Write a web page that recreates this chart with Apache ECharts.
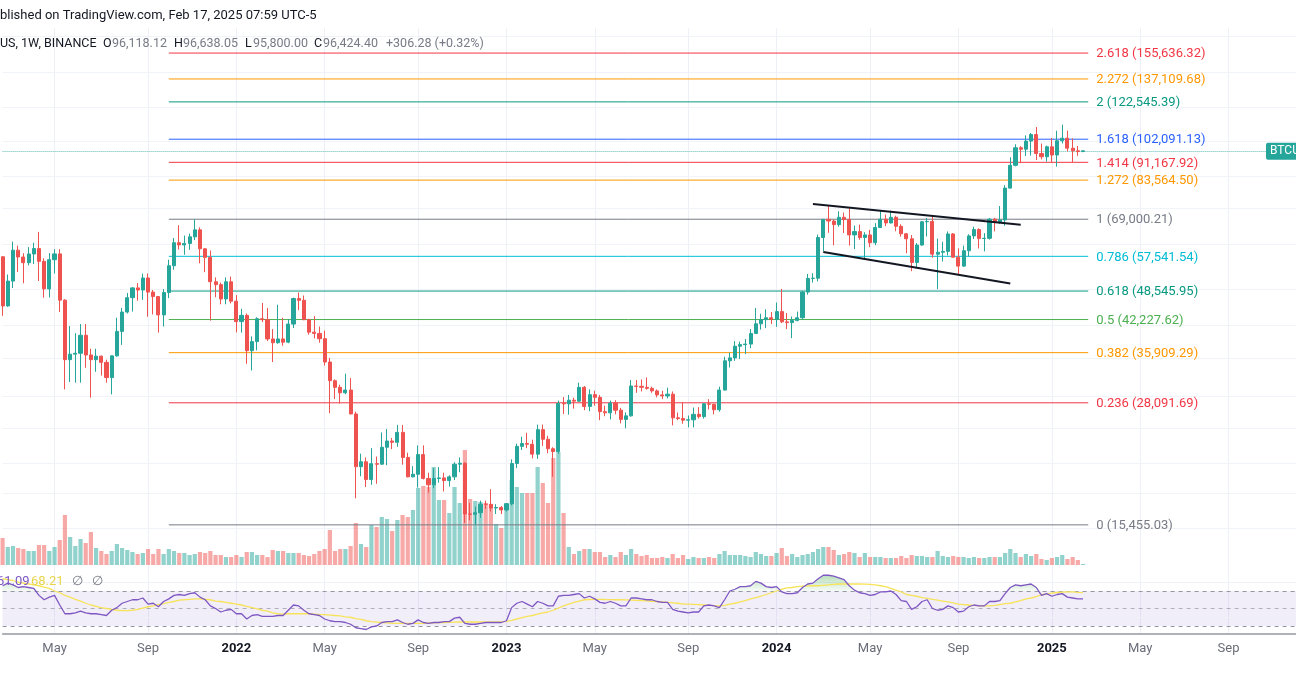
<!DOCTYPE html>
<html><head><meta charset="utf-8">
<script src="https://cdn.jsdelivr.net/npm/echarts@6/dist/echarts.min.js"></script>
<style>html,body{margin:0;padding:0;background:#fff;overflow:hidden}#c{width:1296px;height:700px}</style>
</head><body><div id="c"></div>
<script>
// ---------- DATA ----------
const startDate = [2021, 1, 22];   // first weekly bar (Mon 22 Feb 2021)
const totalWeeks = 250;            // bars + empty future weeks on the axis
const opens = [57412,45135,50971,59302,57351,55777,58202,59769,56150,49066,
56600,58230,46431,34700,35650,35800,39100,35500,34700,35300,
34240,31780,35350,39850,43800,47000,49300,48800,51750,48300,
47250,43200,48200,54950,61500,60850,61300,63300,65500,59700,
57250,50800,50100,46700,50800,46200,41800,43100,36250,37900,
42400,42200,38400,37700,38400,37800,41300,46800,46400,42200,
39700,39450,38450,34300,31300,30300,29500,29900,26600,20550,
21050,19300,20850,20800,22600,23300,23150,24300,21500,19550,
19800,21800,19400,18800,19400,19450,19200,19550,20800,20900,
16300,16280,16400,17100,17090,16780,16830,16630,17130,20870,
22700,23020,22930,21850,24630,23500,22430,22130,28000,27950,
28450,28320,30300,27600,29230,28850,26900,26750,28050,27100,
25900,26350,30500,30450,30300,30150,29780,29200,29050,29300,
26100,26010,25800,25850,26550,26250,27950,27900,27150,29900,
34500,35000,37050,37350,37450,39450,41350,42200,42600,42300,
43900,41750,41600,42050,42600,48300,51650,51700,63100,68950,
68400,67200,69650,68900,63900,64950,63100,63900,61500,66250,
69000,67750,69650,66650,64250,62700,55850,60800,68150,68250,
58150,58700,58950,64200,57300,54850,59150,63600,65600,62800,
62850,69000,68000,68750,80350,89850,97900,97200,101150,104450,
95200,93700,98350,94500,101300,102600,97700,96450,96118.12];
const highs = [57533,52640,61844,60633,58430,60200,61500,64854,57000,58458,
59600,59600,46643,40900,39480,41300,41300,36600,36600,35400,
34700,35400,42600,44700,48100,49500,50500,52900,52900,48800,
47300,49000,56600,62900,67000,63700,64300,69000,66300,59900,
59200,51900,50600,51900,52100,47600,44500,43500,38900,42700,
45800,44700,40300,45400,42600,42300,47000,48200,47500,42400,
42950,40800,40000,35000,31500,30700,32400,31700,26900,21900,
21500,22500,21600,24300,24700,23650,25200,25200,22000,20600,
22800,22800,19950,20400,20500,19950,19700,21000,21500,21000,
17200,16900,17400,17400,18400,17100,16950,17200,21300,23000,
23800,24250,23450,25250,25250,23900,22600,28400,28900,29200,
28800,31000,30500,30000,29800,29200,27700,28400,28450,27400,
26800,31400,31400,31500,31800,30400,30000,29800,30250,29700,
26800,28150,26400,27450,27500,28050,28600,27950,30400,35200,
35900,38000,37900,38400,40300,44700,43450,44400,43800,45900,
49050,43600,42850,43900,48600,52800,52950,64000,69000,73777,
68900,71750,71300,72800,66900,67200,64750,65500,67700,71950,
70600,71950,70200,67300,64500,63850,61400,68400,69400,70000,
62750,61800,65000,64500,59800,60650,64100,66500,66000,64450,
69400,69500,73600,81500,93450,99600,98700,104000,105250,108350,
99950,98950,102700,106400,109600,106450,102500,98800,96638.05];
const lows = [43000,44950,49274,53271,50428,55050,55400,51000,47000,47044,
52900,43825,30000,31100,31000,31000,33350,28800,32700,32100,
31000,29278,35200,37300,43500,43900,46300,46500,42800,43300,
39600,40800,46900,53900,59500,58000,59400,62300,55600,53250,
42000,47100,45500,45500,45700,39650,39600,34000,32900,36300,
41700,38000,34300,37500,37150,37600,40500,44200,42100,39200,
38500,37700,33700,26700,28600,28000,29300,26560,17600,19600,
18600,18800,18900,20750,20700,22400,22650,20750,19500,19500,
18550,19300,18100,18500,19000,18200,18650,19250,20000,15600,
15800,15455,16000,16700,16500,16300,16300,16500,17000,20400,
22300,22500,21400,21350,22750,21950,19550,21900,26600,26500,
27300,28200,27100,26950,27700,25800,26300,25900,26550,25400,
24800,26250,29500,29700,29950,29500,28850,28600,28700,25150,
25800,25350,24900,24900,26000,26000,27200,26550,26900,29850,
33400,34500,34800,35650,36700,39400,40200,40500,41300,40750,
41500,40300,38550,41850,42250,47700,50600,50900,59000,64550,
60750,66500,64500,60650,59600,62400,56550,60200,60750,66100,
66700,67600,65050,63350,58400,53500,54250,60600,63400,57150,
49000,56100,57800,57200,52550,54600,57500,62650,59800,58950,
62450,65050,67450,66850,80200,89400,90800,94000,94250,92200,
92500,91500,91200,89250,100000,96150,91200,94100,95800];
const closes = [45135,50971,59302,57351,55777,58202,59769,56150,49066,56600,
58230,46431,34700,35650,35800,39100,35500,34700,35300,34240,
31780,35350,39850,43800,47000,49300,48800,51750,48300,47250,
43200,48200,54950,61500,60850,61300,63300,65500,59700,57250,
50800,50100,46700,50800,46200,41800,43100,36250,37900,42400,
42200,38400,37700,38400,37800,41300,46800,46400,42200,39700,
39450,38450,34300,31300,30300,29500,29900,26600,20550,21050,
19300,20850,20800,22600,23300,23150,24300,21500,19550,19800,
21800,19400,18800,19400,19450,19200,19550,20800,20900,16300,
16280,16400,17100,17090,16780,16830,16630,17130,20870,22700,
23020,22930,21850,24630,23500,22430,22130,28000,27950,28450,
28320,30300,27600,29230,28850,26900,26750,28050,27100,25900,
26350,30500,30450,30300,30150,29780,29200,29050,29300,26100,
26010,25800,25850,26550,26250,27950,27900,27150,29900,34500,
35000,37050,37350,37450,39450,41350,42200,42600,42300,43900,
41750,41600,42050,42600,48300,51650,51700,63100,68950,68400,
67200,69650,68900,63900,64950,63100,63900,61500,66250,69000,
67750,69650,66650,64250,62700,55850,60800,68150,68250,58150,
58700,58950,64200,57300,54850,59150,63600,65600,62800,62850,
69000,68000,68750,80350,89850,97900,97200,101150,104450,95200,
93700,98350,94500,101300,102600,97700,96450,96120,96424.40];
const volumes = [540,360,380,340,320,280,280,400,400,280,
360,500,1000,560,380,520,440,660,340,280,
220,280,420,340,300,260,220,240,320,220,
320,220,320,280,240,240,200,220,260,240,
280,200,200,160,160,200,160,260,260,200,
200,160,300,280,280,240,240,240,200,180,
220,280,320,700,280,320,320,380,840,420,
360,800,760,960,920,680,900,1000,960,1100,
1540,1580,1560,1960,1300,1300,1040,1560,1240,2300,
1320,1280,1260,1240,1220,820,740,1240,1700,1560,
1440,1440,1440,1960,1640,1240,2140,2260,1040,360,
220,280,320,320,260,260,160,200,160,260,
200,320,220,180,200,140,140,160,140,220,
140,200,120,160,140,140,160,140,220,280,
200,200,200,180,160,260,220,180,180,240,
340,180,220,160,200,220,260,320,360,360,
300,200,220,260,240,160,240,160,160,160,
140,140,140,180,140,200,180,180,160,160,
280,180,160,180,160,160,140,160,140,140,
160,160,160,240,320,240,160,220,180,220,
120,100,140,160,200,120,160,100,20];
const rsi = [76,79,77,74,75,74,73,65,60,63,
65,54,44,44,45,47,45,44,44,43,
42,48,51,56,58,60,60,62,55,56,
52,58,61,65,66,65,67,68,63,60,
53,50,46,48,49,44,44,38,42,43,
41,41,41,42,42,48,54,53,48,44,
43,42,38,36,35,35,34,32,28,27,
26,29,30,34,35,35,37,34,32,33,
37,34,33,34,34,35,35,39,40,33,
32,32,33,34,34,34,34,36,51,56,
58,55,52,58,56,53,53,64,65,65,
66,67,62,64,61,57,56,58,56,53,
53,62,62,61,60,60,58,57,57,49,
47,46,45,46,46,53,54,53,51,60,
70,72,75,75,76,81,79,75,74,75,
69,67,67,68,74,78,79,84,88,88,
87,85,83,76,71,68,67,65,66,69,
69,70,66,59,58,49,52,58,60,50,
48,49,53,51,46,47,52,54,53,53,
58,58,59,67,74,77,76,77,78,74,
65,67,64,66,67,63,62,61,61.09];
const rsiMA = [84,83,82,80,79,78,77,76,74.5,73,
70,68,65,63,60.5,58.5,56,54,52.5,51,
50,49,48,47.5,47.5,48,49,50.5,52,53,
54.5,55.5,57,58,59.5,60,60.5,61,61,60.5,
60,58.5,58,57,56,55,54,52.5,51,49.5,
48,47,45,44,43.5,44,44,44,44,44,
43.5,43,43,42.5,42,41.5,40.5,40,38.5,37.5,
36,35,34.5,34,33.5,33,33,33,33,33,
33,33,33.5,33.5,34,34,34.2,34.5,34.6,34.6,
34.6,34.6,34.6,34.6,34.6,34.8,35,35.4,36.5,38,
39.5,41,42,43.5,45,46,48,50.5,53,55,
57,58.5,60,60.3,60.5,60.5,60.3,60.2,60,60,
59.8,59.6,59.3,59,58.7,58.3,58,57.5,57,56.5,
56,55,55,54.8,54.5,54,53.5,53.2,53,53.5,
55,56,57.5,59,61,62.5,64,66,68,70,
72,73.5,74,75,75.5,75.8,76,76,76.5,77,
77.5,78,78,78,78,78,77.8,77.5,77,76,
75,73,71,69,66,65,64,62.5,61.5,60.5,
59.5,58.5,57.5,56.5,55,54.5,54,53.5,53,53,
53,53.5,54.5,55.5,56,57.5,59,61,62,63.5,
66,66.5,67.5,68.3,68.7,69,69,68.5,68.21];
// Fibonacci retracement (drawn from 15,455.03 to 69,000.21)
const fibRatios = ['2.618','2.272','2','1.618','1.414','1.272','1','0.786','0.618','0.5','0.382','0.236','0'];
const fibPrices = [155636.32,137109.68,122545.39,102091.13,91167.92,83564.50,69000.21,57541.54,48545.95,42227.62,35909.29,28091.69,15455.03];
const fibSpan = ['2021-10-04','2025-02-24'];
// Falling channel trend lines [date, price]
const upperTrend = [['2024-02-19',74350],['2024-11-25',67200]];
const lowerTrend = [['2024-03-04',58760],['2024-11-11',50370]];
// Log price grid levels
const priceGridLevels = [168600,142000,119500,101000,85000,72800,61000,48950,41070,34940,28950,24800,20900,18060,15220];
const rsiLevels = [70,50,30];
const rsiGridLevels = [80,40];
const header = 'blished on TradingView.com, Feb 17, 2025 07:59 UTC-5';
const symbolText = 'US, 1W, BINANCE';
const ohlcLast = ['96,118.12','96,638.05','95,800.00','96,424.40'];
const changeText = '+306.28 (+0.32%)';
const monthNames = ['Jan','Feb','Mar','Apr','May','Jun','Jul','Aug','Sep','Oct','Nov','Dec'];

// ---------- BUILD ----------
const cats = [];
for (let i = 0; i < totalWeeks; i++) {
  const d = new Date(Date.UTC(startDate[0], startDate[1], startDate[2]) + i * 7 * 864e5);
  cats.push(d.toISOString().slice(0, 10));
}
function isMark(idx, val) {
  const v = typeof val === 'string' ? val : cats[idx];
  const m = +v.slice(5, 7), day = +v.slice(8, 10);
  return day <= 7 && (m === 1 || m === 5 || m === 9);
}
function fmtLabel(v) {
  const m = +v.slice(5, 7);
  if (m === 1) return '{y|' + v.slice(0, 4) + '}';
  return monthNames[m - 1];
}
const n = closes.length;
const candleData = opens.map((o, i) => [o, closes[i], lows[i], highs[i]]);
const UP = '#26a69a', DN = '#ef5350';
const volData = volumes.map((v, i) => ({
  value: v,
  itemStyle: { color: closes[i] >= opens[i] ? 'rgba(38,166,154,0.5)' : 'rgba(239,83,80,0.5)' }
}));
const fibColors = ['#f23645','#ff9800','#089981','#2962ff','#f23645','#ff9800','#787b86','#00bcd4','#089981','#4caf50','#ff9800','#f23645','#787b86'];
function fmtNum(p) { return p.toLocaleString('en-US', { minimumFractionDigits: 2, maximumFractionDigits: 2 }); }

const LEFT = 2.6, RIGHT = -1.4;
const FONT = 'Roboto, "Noto Sans", sans-serif';
const xBase = { type: 'category', data: cats, boundaryGap: false, axisTick: { show: false },
  axisLine: { show: false }, axisLabel: { show: false }, splitLine: { show: false } };
const vGrid = { show: true, interval: isMark, lineStyle: { color: '#edf1f7', width: 1 } };

const series = [];
// price grid lines (drawn below everything)
series.push({ type: 'line', xAxisIndex: 0, yAxisIndex: 0, data: [], z: 0, silent: true,
  markLine: { z: 0, silent: true, symbol: 'none', label: { show: false }, animation: false,
    lineStyle: { color: '#f0f3f8', type: 'solid', width: 1 },
    data: priceGridLevels.map(v => ({ yAxis: v })) } });
// volume
series.push({ type: 'bar', xAxisIndex: 1, yAxisIndex: 1, data: volData, barWidth: 4.2, z: 1, silent: true });
// fib levels
fibPrices.forEach((p, k) => {
  series.push({ type: 'line', xAxisIndex: 0, yAxisIndex: 0, z: 1, silent: true, symbol: 'none',
    lineStyle: { color: fibColors[k], width: 1 },
    endLabel: { show: true, distance: 8, offset: [0, 1], formatter: fibRatios[k] + ' (' + fmtNum(p) + ')',
      color: fibColors[k], fontSize: 13, fontFamily: FONT },
    data: [[fibSpan[0], p], [fibSpan[1], p]] });
});
// candles
series.push({ type: 'candlestick', xAxisIndex: 0, yAxisIndex: 0, data: candleData, barWidth: 3.6, z: 3,
  itemStyle: { color: UP, color0: DN, borderColor: UP, borderColor0: DN, borderWidth: 1 },
  markLine: { z: 2, silent: true, symbol: 'none', label: { show: false }, animation: false,
    lineStyle: { color: '#5fbcb3', type: 'dotted', width: 1 }, data: [{ yAxis: closes[n - 1] }] } });
// trend lines
[upperTrend, lowerTrend].forEach(t => {
  series.push({ type: 'line', xAxisIndex: 0, yAxisIndex: 0, z: 4, silent: true, symbol: 'none',
    lineStyle: { color: '#131722', width: 2 }, data: t });
});
// RSI
series.push({ type: 'line', xAxisIndex: 2, yAxisIndex: 2, data: rsi, symbol: 'none', z: 3,
  lineStyle: { color: '#7e57c2', width: 1.3 },
  markArea: { z: 0, silent: true, itemStyle: { color: 'rgba(126,87,194,0.1)' }, data: [[{ yAxis: 70 }, { yAxis: 30 }]] },
  markLine: { z: 1, silent: true, symbol: 'none', label: { show: false }, animation: false,
    data: rsiLevels.map(v => ({ yAxis: v, lineStyle: { color: v === 50 ? 'rgba(120,123,134,0.55)' : '#9598a1', type: [4, 4], width: 1 } }))
      .concat(rsiGridLevels.map(v => ({ yAxis: v, lineStyle: { color: '#eef1f6', type: 'solid', width: 1 } }))) } });
series.push({ type: 'line', xAxisIndex: 2, yAxisIndex: 2, data: rsiMA, symbol: 'none', z: 2,
  lineStyle: { color: '#f7e35a', width: 1.3 } });
// overbought fill (stacked above 70)
series.push({ type: 'line', xAxisIndex: 2, yAxisIndex: 2, stack: 'ob', data: rsi.map(() => 70), symbol: 'none',
  lineStyle: { opacity: 0 }, z: 1, silent: true });
series.push({ type: 'line', xAxisIndex: 2, yAxisIndex: 2, stack: 'ob', data: rsi.map(v => Math.max(v - 70, 0)), symbol: 'none',
  lineStyle: { opacity: 0 }, z: 1, silent: true,
  areaStyle: { color: { type: 'linear', x: 0, y: 0, x2: 0, y2: 1, colorStops: [
    { offset: 0, color: 'rgba(76,175,80,0.55)' }, { offset: 1, color: 'rgba(76,175,80,0.08)' }] } } });

const chart = echarts.init(document.getElementById('c'), null, { renderer: 'canvas' });
chart.setOption({
  animation: false,
  backgroundColor: '#ffffff',
  grid: [
    { left: LEFT, right: RIGHT, top: 28, bottom: 134 },
    { left: LEFT, right: RIGHT, top: 335, bottom: 135 },
    { left: LEFT, right: RIGHT, top: 566, bottom: 66 }
  ],
  xAxis: [
    Object.assign({}, xBase, { gridIndex: 0, splitLine: vGrid }),
    Object.assign({}, xBase, { gridIndex: 1 }),
    Object.assign({}, xBase, { gridIndex: 2, splitLine: vGrid,
      axisLine: { show: true, lineStyle: { color: '#9598a1', width: 1.5 } },
      axisLabel: { show: true, interval: isMark, formatter: fmtLabel, margin: 8, color: '#6a6d78',
        fontSize: 13, fontFamily: FONT, rich: { y: { fontWeight: 'bold', color: '#131722', fontSize: 13, fontFamily: FONT } } } })
  ],
  yAxis: [
    { type: 'log', logBase: 10, gridIndex: 0, min: 12636, max: 175960, show: false, splitLine: { show: false } },
    { type: 'value', gridIndex: 1, min: 0, max: 4600, show: false, splitLine: { show: false } },
    { type: 'value', gridIndex: 2, min: 20.86, max: 98.57, show: false, splitLine: { show: false } }
  ],
  series: series
});

const lastY = chart.convertToPixel({ yAxisIndex: 0 }, closes[n - 1]);
const T = (text, x, y, fill, size) => ({ type: 'text', silent: true, z: 100,
  style: { text: text, x: x, y: y, fill: fill, font: (size || 12.5) + 'px ' + FONT, textVerticalAlign: 'middle', verticalAlign: 'middle' } });
chart.setOption({
  graphic: [
    T(header, 0, 16, '#131722', 13),
    T(symbolText, 0, 44, '#131722'),
    T('O', 103, 44, '#131722'), T(ohlcLast[0], 112, 44, '#787b86'),
    T('H', 174, 44, '#131722'), T(ohlcLast[1], 183, 44, '#787b86'),
    T('L', 245, 44, '#131722'), T(ohlcLast[2], 253, 44, '#787b86'),
    T('C', 314, 44, '#131722'), T(ohlcLast[3], 323, 44, '#787b86'),
    T(changeText, 386, 44, '#787b86'),
    T(rsi[n - 1].toFixed(2), -3, 582, '#7e57c2', 13),
    T(rsiMA[n - 1].toFixed(2), 31, 582, '#e8d44d', 13),
    T('∅', 72, 582, '#787b86', 13), T('∅', 92, 582, '#787b86', 13),
    { type: 'rect', silent: true, z: 100, shape: { x: 1266, y: lastY - 8, width: 40, height: 17, r: 2 }, style: { fill: UP } },
    T('BTCU', 1270, lastY + 0.5, '#ffffff', 12)
  ]
});
</script></body></html>
